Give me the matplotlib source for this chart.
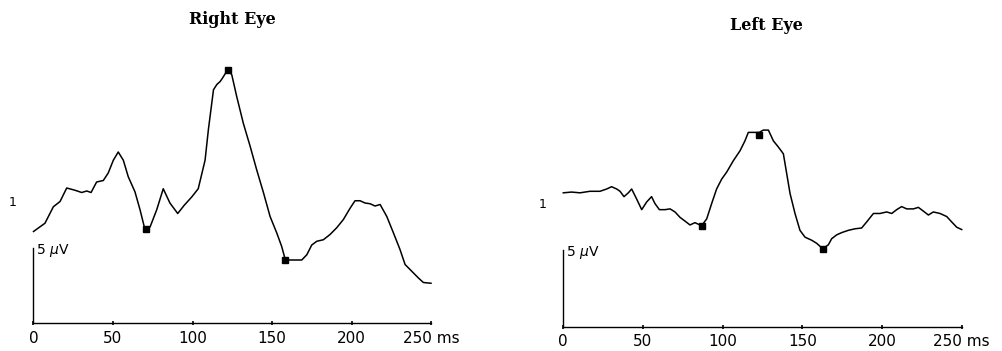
import numpy as np
import matplotlib
matplotlib.use("Agg")
import matplotlib.pyplot as plt

# Right eye trace (ms, uV)
right_t = [0, 7.2, 12.5, 16.7, 20.9, 26.1, 30.3, 33.5, 36.2, 39.7, 43.9, 47, 50.2, 53.3,
           56.5, 59.6, 63.8, 67, 69.7, 73.3, 77.5, 81.6, 85.8, 90.7, 94.8, 99.5, 103.6,
           107.9, 110, 113.2, 115.3, 117.4, 119, 122.2, 124.7, 127.8,
           132, 136.2, 140.4, 144.6, 148.8, 153, 156.1, 158.4, 163.5, 168.7, 171.9,
           175, 178.2, 182.3, 186.5, 190.7, 194.9, 199.1, 202.2, 205.4, 208.5, 211.7,
           214.8, 218, 222.2, 226.4, 230.5, 233.7, 237.9, 242.1, 245.2, 250]
right_v = [6.1, 6.65, 7.75, 8.1, 9.0, 8.85, 8.7, 8.8, 8.7, 9.4, 9.5, 10.0, 10.85, 11.4,
           10.85, 9.75, 8.75, 7.55, 6.4, 6.4, 7.55, 8.95, 8.0, 7.3, 7.85, 8.4, 8.95,
           10.85, 12.9, 15.55, 15.9, 16.1, 16.35, 16.9, 16.55, 15.1,
           13.3, 11.8, 10.2, 8.7, 7.1, 6.0, 5.1, 4.2, 4.2, 4.2, 4.55,
           5.2, 5.45, 5.55, 5.9, 6.35, 6.9, 7.65, 8.15, 8.15, 8.0, 7.95,
           7.8, 7.9, 7.1, 6.0, 4.9, 3.9, 3.45, 3.0, 2.7, 2.65]
right_peaks_t = [70.8, 122.2, 158.4]
right_peaks_v = [6.3, 16.9, 4.2]

# Left eye trace
left_t = [0, 5.2, 10.5, 16.7, 23, 27.2, 30.3, 33.5, 35.6, 38.1, 40.8, 42.9, 46, 49.2,
          52.3, 55.4, 57.5, 60.3, 63.8, 67, 70.1, 73.2, 76.4, 79.5, 82.6, 86.8, 90,
          93.1, 96.2, 99.4, 102.5, 106.7, 110.9, 114, 116.1, 119.2, 123, 125.5, 128.7,
          131.8, 134.9, 138.1, 140.2, 142.3, 145.4, 148.5, 151.7, 155.9, 159, 162.8,
          166.3, 168.4, 171.5, 174.7, 178.9, 183.1, 187.2, 190.4, 194.6, 198.7, 202.9,
          206.1, 209.2, 212.3, 215.5, 219.7, 222.8, 226, 229.1, 232.2, 236.4, 240.6,
          243.7, 246.9, 250]
left_v = [8.75, 8.8, 8.75, 8.85, 8.85, 9.0, 9.15, 9.0, 8.85, 8.5, 8.75, 9.0, 8.35, 7.65,
          8.15, 8.5, 8.05, 7.65, 7.65, 7.7, 7.5, 7.15, 6.9, 6.65, 6.8, 6.6, 7.05,
          8.05, 9.0, 9.65, 10.1, 10.85, 11.5, 12.15, 12.7, 12.7, 12.7, 12.85, 12.85,
          12.15, 11.75, 11.3, 10.0, 8.7, 7.4, 6.3, 5.85, 5.65, 5.45, 5.1,
          5.35, 5.75, 6.0, 6.15, 6.3, 6.4, 6.45, 6.85, 7.4, 7.4, 7.5,
          7.4, 7.65, 7.85, 7.7, 7.7, 7.8, 7.55, 7.3, 7.5, 7.4, 7.2,
          6.85, 6.5, 6.35]
left_peaks_t = [86.8, 123, 162.8]
left_peaks_v = [6.6, 12.5, 5.1]

ticks = [0, 50, 100, 150, 200, 250]
tick_labels = ["0", "50", "100", "150", "200", "250 ms"]

W, H = 1003, 351
fig = plt.figure(figsize=(W / 100, H / 100), dpi=100)

# (title, data..., x0 px, width px, baseline px from top, px per uV, title x, title y)
panels = [
    ("Right Eye", right_t, right_v, right_peaks_t, right_peaks_v, 33.5, 397.5, 323, 15.0, 125, 20.2),
    ("Left Eye", left_t, left_v, left_peaks_t, left_peaks_v, 563.3, 398.4, 326.7, 15.3, 127.5, 19.7),
]

for title, t, v, pt, pv, x0, w, base, ppu, tx, ty in panels:
    ymin, ymax = -1.6, 20.5
    bottom = (H - base) - (0 - ymin) * ppu
    height = (ymax - ymin) * ppu
    ax = fig.add_axes([x0 / W, bottom / H, w / W, height / H])
    ax.set_xlim(0, 250)
    ax.set_ylim(ymin, ymax)
    ax.plot(t, v, color="black", lw=1.1, clip_on=False)
    ax.plot(pt, pv, "s", color="black", ms=5, clip_on=False)

    for s in ["top", "right"]:
        ax.spines[s].set_visible(False)
    ax.spines["bottom"].set_position(("data", 0))
    ax.spines["left"].set_position(("data", 0))
    ax.spines["bottom"].set_bounds(0, 250)
    ax.spines["left"].set_bounds(0, 5)
    ax.spines["bottom"].set_linewidth(1.0)
    ax.spines["left"].set_linewidth(1.0)
    ax.set_xticks(ticks)
    ax.set_xticklabels(tick_labels)
    ax.set_yticks([])
    ax.tick_params(axis="x", direction="inout", length=3, width=1.2, pad=4,
                   labelsize=11)
    ax.patch.set_alpha(0)

    ax.text(1.5, 4.85, "5 $\\mu$V", fontsize=10, va="center", ha="left")
    ax.text(-13, 8.0, "1", fontsize=9, va="center", ha="center")
    ax.text(tx, ty, title, fontsize=11.5, family="DejaVu Serif",
            fontweight="bold", ha="center", va="center")

fig.savefig("out.png", dpi=100)
